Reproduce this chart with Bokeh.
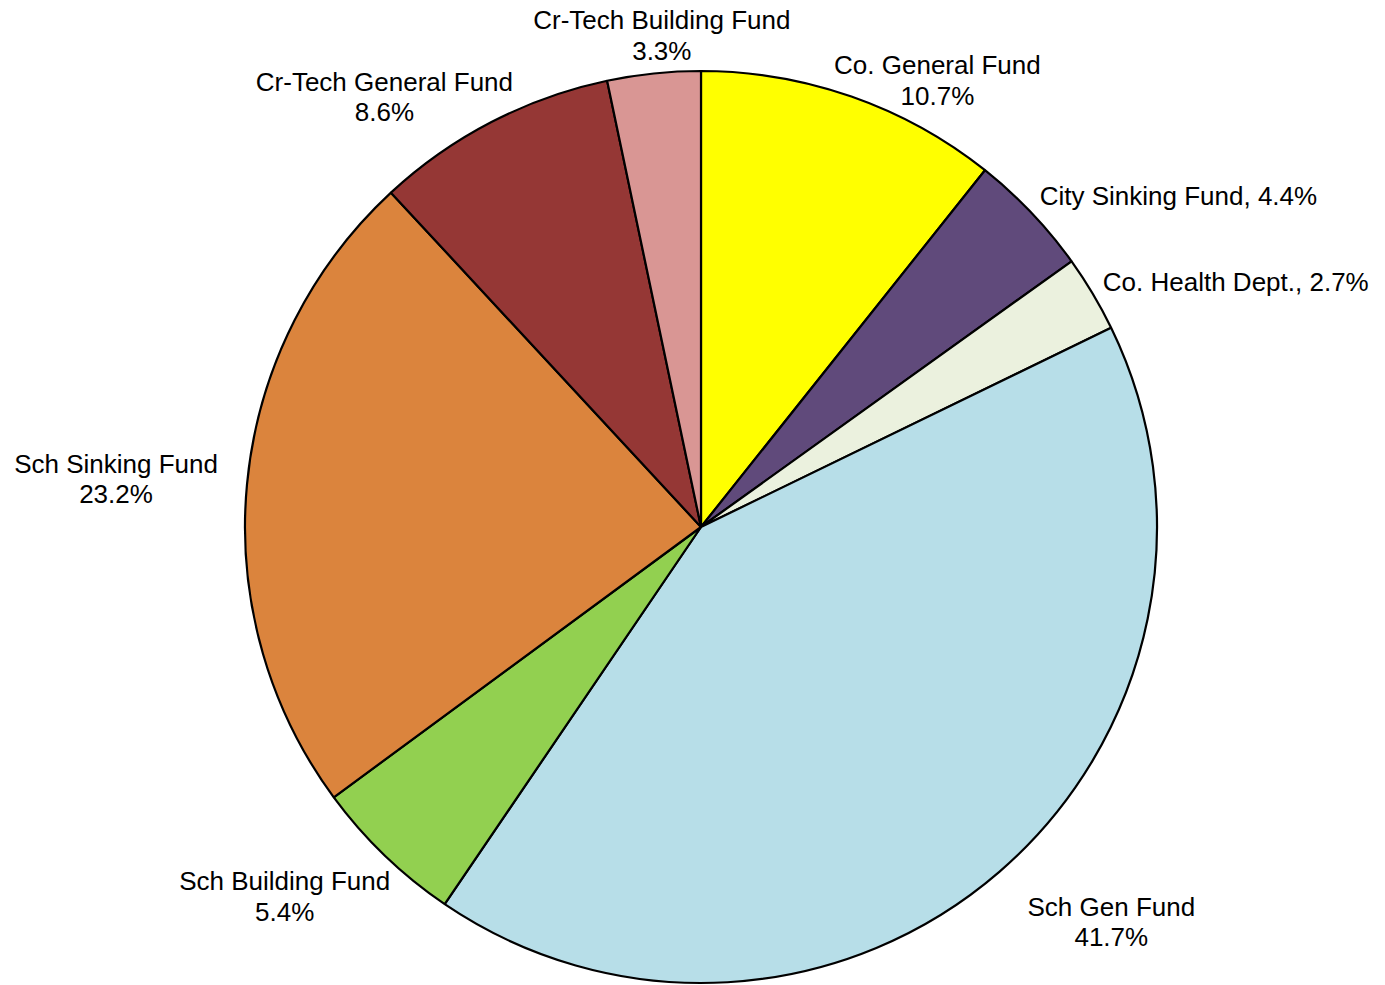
import math
from bokeh.plotting import figure
from bokeh.models import Range1d, ColumnDataSource
from bokeh.core.properties import value
from bokeh.embed import file_html
from bokeh.resources import INLINE

# ---- data ----
funds = ["Co. General Fund", "City Sinking Fund", "Co. Health Dept.", "Sch Gen Fund",
         "Sch Building Fund", "Sch Sinking Fund", "Cr-Tech General Fund", "Cr-Tech Building Fund"]
shares = [10.7, 4.4, 2.7, 41.7, 5.4, 23.2, 8.6, 3.3]
colors = ["#FFFF00", "#604A7B", "#EBF1DE", "#B7DEE8", "#92D050", "#DB843D", "#953735", "#D99694"]
inline_label = [False, True, True, False, False, False, False, False]

# ---- layout (not data) ----
W, H = 1385, 985
cx, cy = 700.5, 985 - 526.5   # data coords (1 unit = 1 px of the page)
R = 456
# label-centre offsets from the slice's outer-edge midpoint, page pixels (dx, dy down)
label_offsets = [(86, -16), (147, -17), (143, -12), (112, 50), (-100, 41), (-131, -5), (-107, -25), (8, -38)]

total = sum(shares)
starts, ends, lx, ly, ltext = [], [], [], [], []
cum = 0.0
for f, s, inl, (dx, dy) in zip(funds, shares, inline_label, label_offsets):
    a0 = math.pi / 2 - 2 * math.pi * cum / total
    a1 = math.pi / 2 - 2 * math.pi * (cum + s) / total
    starts.append(a0)
    ends.append(a1)
    mid = (a0 + a1) / 2
    ex = cx + R * math.cos(mid)
    ey = cy + R * math.sin(mid)
    lx.append(ex + dx)
    ly.append(ey - dy)
    ltext.append(f"{f}, {s:.1f}%" if inl else f"{f}\n{s:.1f}%")
    cum += s

src = ColumnDataSource(dict(start=starts, end=ends, color=colors))
lsrc = ColumnDataSource(dict(x=lx, y=ly, text=ltext))

p = figure(width=W, height=H, output_backend="svg", toolbar_location=None,
           x_range=Range1d(0, W), y_range=Range1d(985 - H, 985),
           min_border=0, outline_line_color=None, background_fill_color="white")
p.axis.visible = False
p.grid.visible = False

p.wedge(x=cx, y=cy, radius=R, start_angle="start", end_angle="end", direction="clock",
        fill_color="color", line_color="black", line_width=2.2, source=src)

p.text(x="x", y="y", text="text", source=lsrc, text_align="center", text_baseline="middle",
       text_font=value("Liberation Sans"), text_font_size="26px", text_color="black",
       text_line_height=1.02)

open("out.html", "w").write(file_html(p, INLINE))
